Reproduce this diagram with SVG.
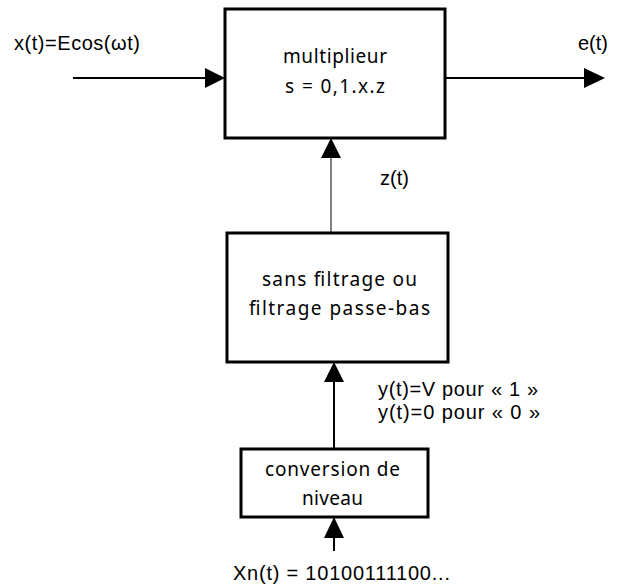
<svg xmlns="http://www.w3.org/2000/svg" width="619" height="588" viewBox="0 0 619 588">
<style>
.box{fill:#fff;stroke:#000;stroke-width:3}
.lbl{font-family:"Liberation Sans",Arial,sans-serif;font-size:20px;fill:#000}
.in{font-family:"Comic Sans MS","Noto Sans",sans-serif;font-size:19px;fill:#000;text-anchor:middle}
.wire{stroke:#000;stroke-width:2;fill:none}
.head{fill:#000}
</style>
<rect width="619" height="588" fill="#fff"/>
<g id="connectors">
<line class="wire" x1="73" y1="78" x2="208" y2="78"/>
<polygon class="head" points="225,78 205,68 205,88"/>
<line class="wire" x1="445" y1="78" x2="588" y2="78"/>
<polygon class="head" points="605,78 584,68 584,88"/>
<line x1="331" y1="232" x2="331" y2="155" stroke="#808080" stroke-width="2"/>
<polygon class="head" points="331,138 321,158 341,158"/>
<line class="wire" x1="334" y1="449" x2="334" y2="378"/>
<polygon class="head" points="334,362 324,382 344,382"/>
<line class="wire" x1="334" y1="551" x2="334" y2="535"/>
<polygon class="head" points="334,517 324,538 344,538"/>
</g>
<g id="multiplieur">
<rect class="box" x="225" y="9" width="220" height="129"/>
<text class="in" x="335" y="63" textLength="104">multiplieur</text>
<text class="in" x="335" y="93" textLength="100">s = 0,1.x.z</text>
</g>
<g id="filtrage">
<rect class="box" x="227" y="233" width="221" height="129"/>
<text class="in" x="339.5" y="286" textLength="155">sans filtrage ou</text>
<text class="in" x="339.5" y="315" textLength="181">filtrage passe-bas</text>
</g>
<g id="conversion">
<rect class="box" x="241" y="449" width="187" height="68"/>
<text class="in" x="332.5" y="476" textLength="135">conversion de</text>
<text class="in" x="332.5" y="505" textLength="61">niveau</text>
</g>
<g id="labels">
<text class="lbl" x="14" y="50" textLength="126">x(t)=Ecos(ωt)</text>
<text class="lbl" x="578" y="50">e(t)</text>
<text class="lbl" x="380" y="185">z(t)</text>
<text class="lbl" x="378" y="396" textLength="160">y(t)=V pour « 1 »</text>
<text class="lbl" x="378" y="419" textLength="162">y(t)=0 pour « 0 »</text>
<text class="lbl" x="233" y="580" textLength="217">Xn(t) = 10100111100...</text>
</g>
</svg>
